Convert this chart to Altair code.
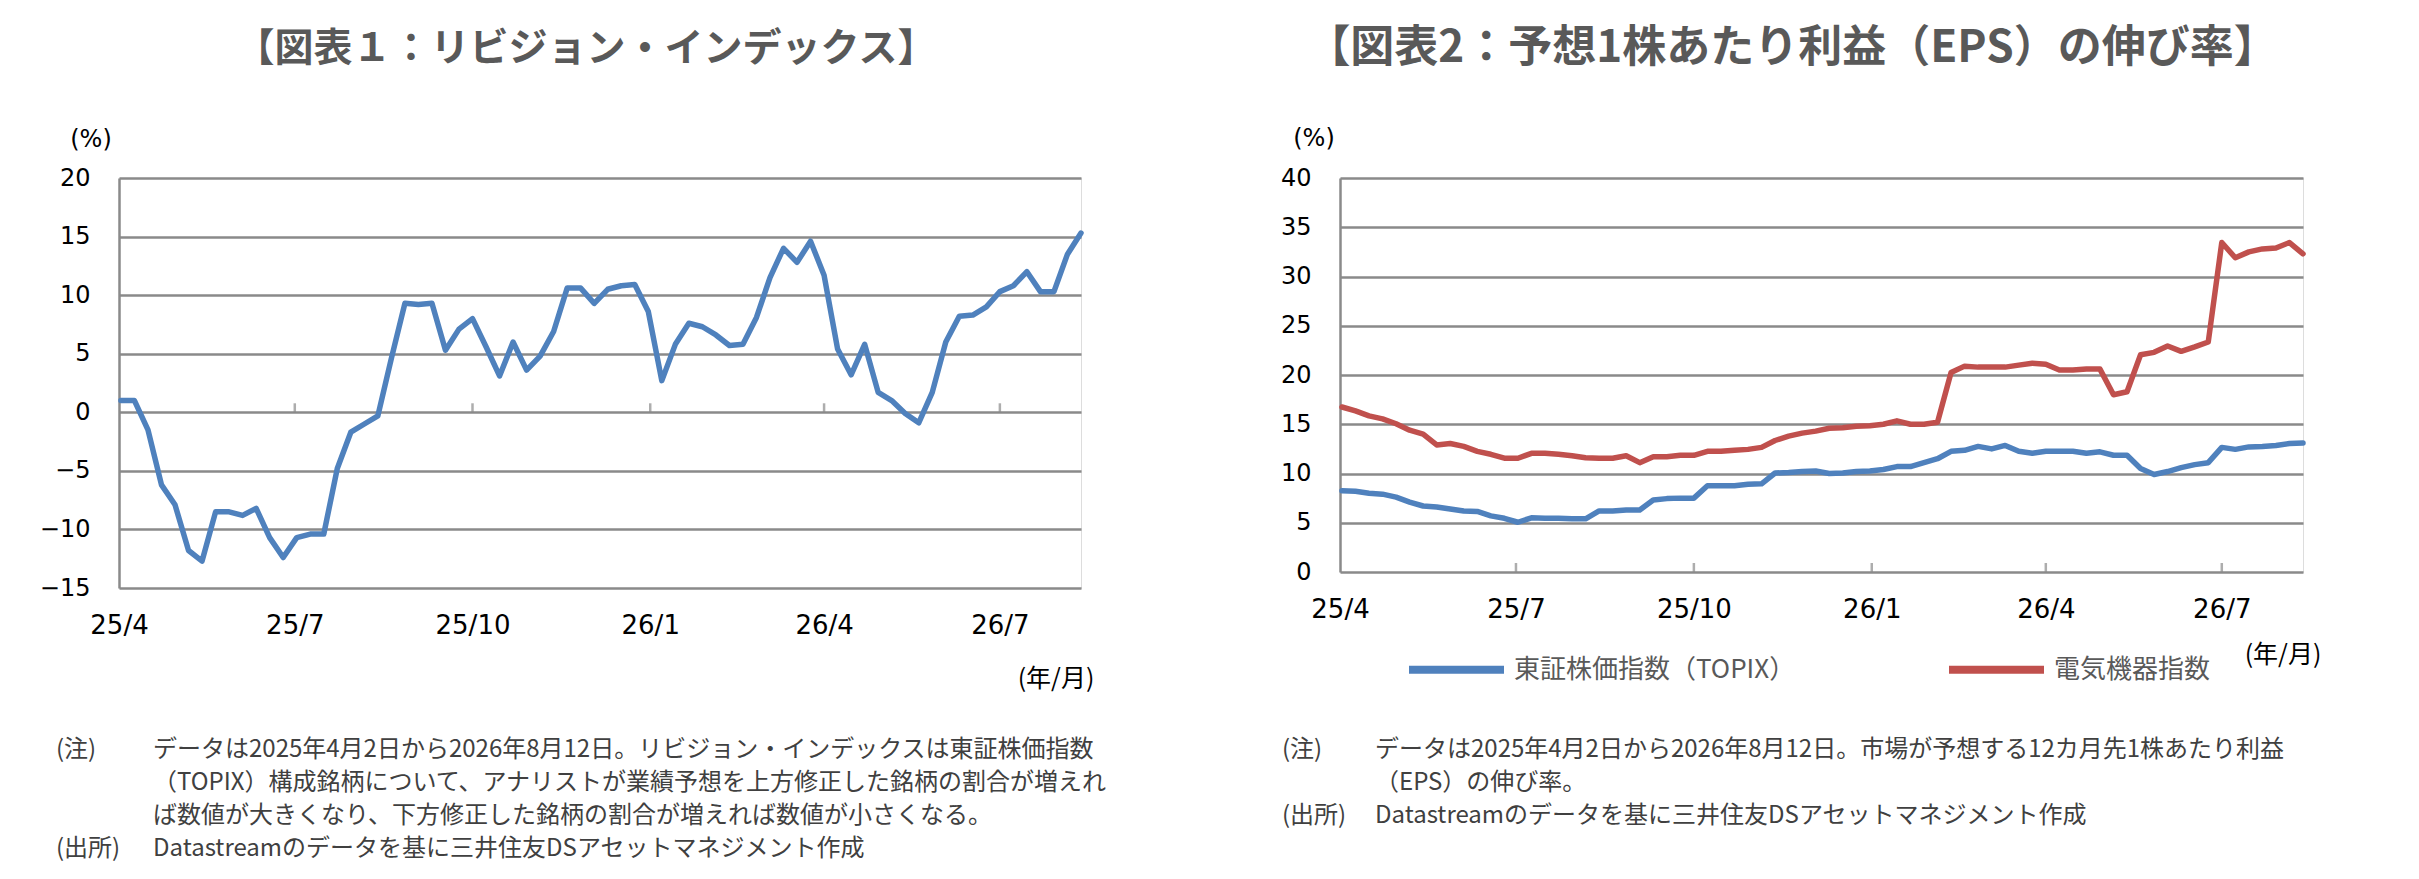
import altair as alt
import pandas as pd

# ---------------- data ----------------
dates = pd.date_range("2025-04-02", periods=72, freq="7D").strftime("%Y-%m-%d").tolist()

revision = [1.0, 1.0, -1.5, -6.2, -7.9, -11.8, -12.7, -8.5, -8.5, -8.8,
            -8.2, -10.7, -12.4, -10.7, -10.4, -10.4, -4.8, -1.7, -1.0, -0.3,
            4.6, 9.3, 9.2, 9.3, 5.3, 7.1, 8.0, 5.6, 3.1, 6.0,
            3.6, 4.8, 6.9, 10.6, 10.6, 9.3, 10.5, 10.8, 10.9, 8.6,
            2.7, 5.8, 7.6, 7.3, 6.6, 5.7, 5.8, 8.1, 11.5, 14.0,
            12.8, 14.6, 11.7, 5.4, 3.2, 5.8, 1.7, 1.0, -0.1, -0.9,
            1.7, 6.0, 8.2, 8.3, 9.0, 10.3, 10.8, 12.0, 10.3, 10.3,
            13.5, 15.3]

topix = [8.25, 8.2, 8.0, 7.9, 7.6, 7.1, 6.7, 6.6, 6.4, 6.2,
         6.15, 5.7, 5.45, 5.05, 5.5, 5.45, 5.45, 5.4, 5.4, 6.2,
         6.2, 6.3, 6.3, 7.3, 7.45, 7.5, 7.5, 8.75, 8.75, 8.75,
         8.9, 8.95, 10.05, 10.1, 10.2, 10.25, 10.0, 10.05, 10.2, 10.25,
         10.4, 10.7, 10.7, 11.1, 11.5, 12.25, 12.35, 12.75, 12.5, 12.85,
         12.25, 12.05, 12.25, 12.25, 12.25, 12.05, 12.2, 11.85, 11.85, 10.5,
         9.9, 10.2, 10.6, 10.9, 11.1, 12.65, 12.45, 12.7, 12.75, 12.85,
         13.05, 13.1]

denki = [16.75, 16.35, 15.85, 15.55, 15.05, 14.4, 14.0, 12.9, 13.05, 12.75,
         12.25, 11.95, 11.55, 11.55, 12.05, 12.05, 11.95, 11.8, 11.6, 11.55,
         11.55, 11.8, 11.1, 11.7, 11.7, 11.85, 11.85, 12.25, 12.25, 12.35,
         12.45, 12.65, 13.35, 13.8, 14.1, 14.3, 14.6, 14.65, 14.8, 14.85,
         15.0, 15.35, 15.0, 15.0, 15.2, 20.25, 20.9, 20.8, 20.8, 20.8,
         21.0, 21.2, 21.1, 20.5, 20.5, 20.6, 20.6, 18.0, 18.3, 22.05,
         22.3, 22.95, 22.4, 22.85, 23.35, 33.45, 31.9, 32.5, 32.8, 32.9,
         33.45, 32.3]

series_names = ["東証株価指数（TOPIX）", "電気機器指数"]
series_colors = ["#4F81BD", "#C0504D"]

tick_dates = ["2025-07-01", "2025-10-01", "2026-01-01", "2026-04-01", "2026-07-01"]
left_y_ticks = [-15, -10, -5, 0, 5, 10, 15, 20]
right_y_ticks = [0, 5, 10, 15, 20, 25, 30, 35, 40]

title1 = "【図表１：リビジョン・インデックス】"
title2 = "【図表2：予想1株あたり利益（EPS）の伸び率】"
notes1 = ["データは2025年4月2日から2026年8月12日。リビジョン・インデックスは東証株価指数",
          "（TOPIX）構成銘柄について、アナリストが業績予想を上方修正した銘柄の割合が増えれ",
          "ば数値が大きくなり、下方修正した銘柄の割合が増えれば数値が小さくなる。"]
notes2 = ["データは2025年4月2日から2026年8月12日。市場が予想する12カ月先1株あたり利益",
          "（EPS）の伸び率。"]
source = "Datastreamのデータを基に三井住友DSアセットマネジメント作成"

df1 = pd.DataFrame({"date": dates, "value": revision})
df2 = pd.concat([
    pd.DataFrame({"date": dates, "series": series_names[0], "value": topix}),
    pd.DataFrame({"date": dates, "series": series_names[1], "value": denki}),
])
ticks_df = pd.DataFrame({"date": tick_dates})

# ---------------- styling ----------------
GRID = "#8a8a8a"
JP = "Noto Sans CJK JP"
NUM = "DejaVu Sans"
TITLE_C = "#595959"
NOTE_C = "#404040"
LEFT_W = 962
SPACING = 259

def dt(y, m, d):
    return alt.DateTime(year=y, month=m, date=d, utc=True)

x_domain = [dt(2025, 4, 1), dt(2026, 8, 12)]
x_values = [dt(2025, 4, 1), dt(2025, 7, 1), dt(2025, 10, 1), dt(2026, 1, 1), dt(2026, 4, 1), dt(2026, 7, 1)]

def x_enc():
    return alt.X("date:T", title=None,
                 scale=alt.Scale(type="utc", domain=x_domain),
                 axis=alt.Axis(values=x_values, format="%y/%-m", domain=False, ticks=False, grid=False,
                               labelFont=NUM, labelFontSize=26, labelColor="#000000",
                               labelPadding=24, labelFlush=False))

def y_axis(vals):
    return alt.Axis(values=vals, grid=True, gridColor=GRID, gridWidth=2.5,
                    domain=True, domainColor=GRID, domainWidth=2.5,
                    ticks=False, labelFont=NUM, labelFontSize=24, labelColor="#000000",
                    labelPadding=29)

def text_layer(txt, x, y, size, color, font=JP, align="left", weight="normal"):
    return alt.Chart(pd.DataFrame({"t": [0]})).mark_text(
        text=txt, font=font, fontSize=size, color=color, align=align,
        baseline="middle", fontWeight=weight
    ).encode(x=alt.value(x), y=alt.value(y))

def tick_layer():
    return alt.Chart(ticks_df).mark_tick(orient="vertical", size=9, thickness=2.5,
                                         color=GRID, yOffset=-4.5).encode(
        x=alt.X("date:T", scale=alt.Scale(type="utc", domain=x_domain)),
        y=alt.datum(0, type="quantitative"))

# ---------------- left chart ----------------
line1 = alt.Chart(df1).mark_line(color=series_colors[0], strokeWidth=5.5,
                                 strokeJoin="round", strokeCap="round").encode(
    x=x_enc(),
    y=alt.Y("value:Q", title=None,
            scale=alt.Scale(domain=[-15, 20], nice=False, zero=False),
            axis=y_axis(left_y_ticks)))

left_layers = [line1, tick_layer(),
               text_layer(title1, 467, -129, 39, TITLE_C, align="center", weight="bold"),
               text_layer("(%)", -28, -38, 24, "#000000", font=NUM, align="center"),
               text_layer("(年/月)", 937, 501, 25, "#000000", align="center"),
               text_layer("(注)", -63, 572, 24, NOTE_C)]
for i, ln in enumerate(notes1):
    left_layers.append(text_layer(ln, 34, 572 + 33 * i, 24, NOTE_C))
left_layers.append(text_layer("(出所)", -63, 671, 24, NOTE_C))
left_layers.append(text_layer(source, 34, 671, 24, NOTE_C))

left = alt.layer(*left_layers).properties(width=LEFT_W, height=410)

# ---------------- right chart ----------------
line2 = alt.Chart(df2).mark_line(strokeWidth=5.5, strokeJoin="round", strokeCap="round").encode(
    x=x_enc(),
    y=alt.Y("value:Q", title=None,
            scale=alt.Scale(domain=[0, 40], nice=False),
            axis=y_axis(right_y_ticks)),
    color=alt.Color("series:N",
                    scale=alt.Scale(domain=series_names, range=series_colors),
                    legend=alt.Legend(orient="none", legendX=LEFT_W + SPACING + 65, legendY=440,
                                      direction="horizontal",
                                      title=None, symbolType="stroke", symbolSize=9025,
                                      symbolStrokeWidth=8, labelFont=JP, labelFontSize=26,
                                      labelColor=TITLE_C, labelOffset=6, columnPadding=137,
                                      labelLimit=1000)),
    detail="series:N")

right_layers = [line2, tick_layer(),
                text_layer(title2, 452, -129, 44, TITLE_C, align="center", weight="bold"),
                text_layer("(%)", -26, -39, 24, "#000000", font=NUM, align="center"),
                text_layer("(年/月)", 943, 477, 25, "#000000", align="center"),
                text_layer("(注)", -58, 572, 24, NOTE_C)]
for i, ln in enumerate(notes2):
    right_layers.append(text_layer(ln, 35, 572 + 33 * i, 24, NOTE_C))
right_layers.append(text_layer("(出所)", -58, 638, 24, NOTE_C))
right_layers.append(text_layer(source, 35, 638, 24, NOTE_C))

right = alt.layer(*right_layers).properties(width=963, height=394)

chart = alt.hconcat(left, right, spacing=SPACING, bounds="flush").properties(
    padding={"left": 30, "top": 18, "right": 5, "bottom": 5}
).configure_view(stroke=None).configure(background="white")

chart.save("out.html", embed_options={"renderer": "svg", "actions": False})
